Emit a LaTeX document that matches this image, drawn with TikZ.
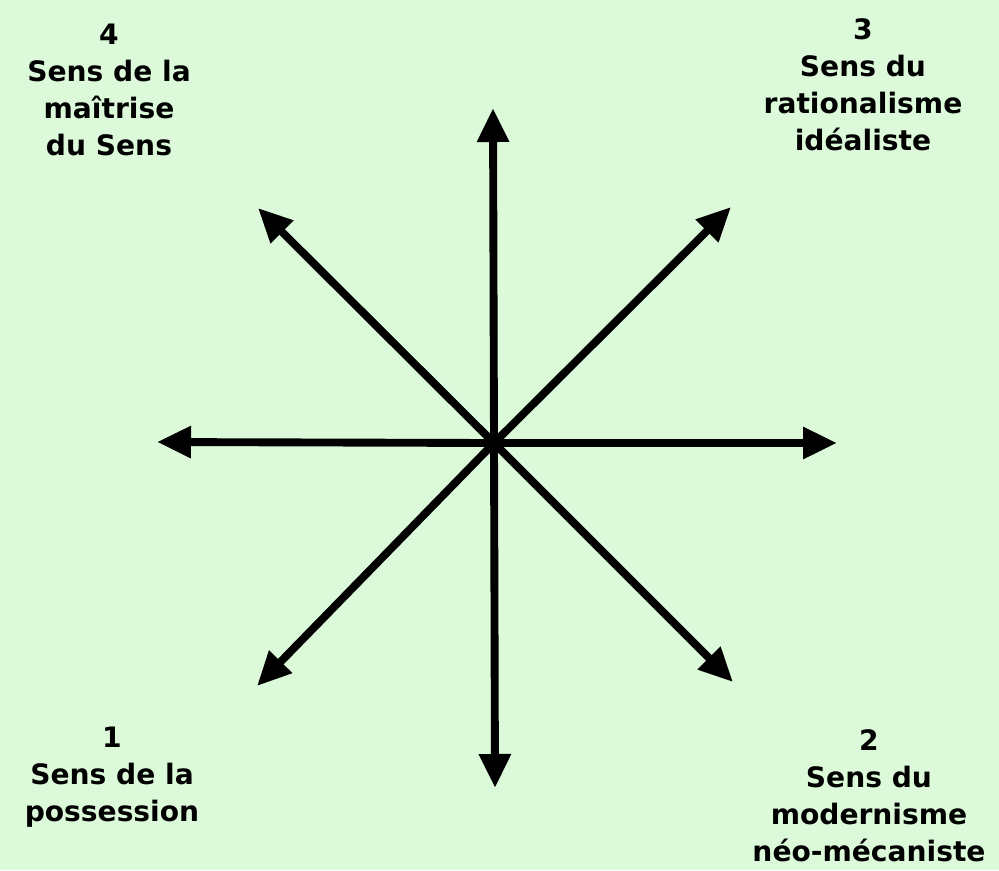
\documentclass[tikz,border=0pt]{standalone}
\usepackage{fontspec}
\setmainfont{DejaVu Sans}
\usetikzlibrary{arrows.meta}
\definecolor{paper}{HTML}{DCFADA}
\tikzset{
  arr/.style={-{Triangle[length=0.85cm, width=0.76cm]}, line width=5.6pt, draw=black},
  sensbox/.style={align=center, inner sep=0pt,
    font=\fontsize{20}{26.3}\selectfont\bfseries}
}

\begin{document}
\begin{tikzpicture}[x=0.025cm,y=-0.025cm]
  \fill[paper] (0,0) rectangle (999,870);
  \useasboundingbox (0,0) rectangle (999,870);
  % centre and arrow tips
  \coordinate (o) at (494,443);
  \coordinate (up) at (493,108);
  \coordinate (down) at (495,788);
  \coordinate (left) at (157,442);
  \coordinate (right) at (837,443);
  \coordinate (upleft) at (258,208);
  \coordinate (upright) at (731,207);
  \coordinate (downleft) at (257,686);
  \coordinate (downright) at (733,682);
  \foreach \t in {up,down,left,right,upleft,upright,downleft,downright}
    \draw[arr] (o) -- (\t);
  % the four senses
  \node[sensbox] (s4) at (109,90) {4\\Sens de la\\maîtrise\\du Sens};
  \node[sensbox] (s3) at (863,85) {3\\Sens du\\rationalisme\\idéaliste};
  \node[sensbox] (s2) at (869,796) {2\\Sens du\\modernisme\\néo-mécaniste};
  \node[sensbox] (s1) at (112,777) {1\\Sens de la\\possession};
\end{tikzpicture}
\end{document}
